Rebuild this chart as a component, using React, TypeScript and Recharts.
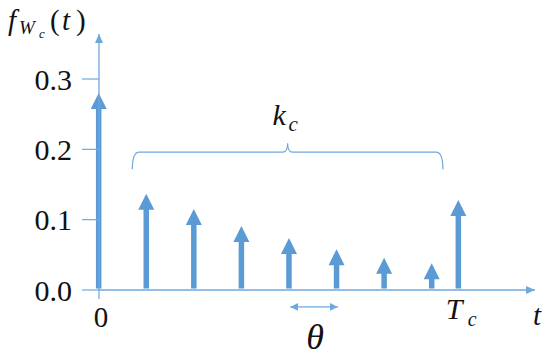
import { ComposedChart, Bar, XAxis, YAxis, ReferenceLine } from "recharts";

// ─── Data ────────────────────────────────────────────────────────────────────

const impulseTimes = [0, 1, 2, 3, 4, 5, 6, 7, 7.56];
const impulseValues = [0.28, 0.137, 0.115, 0.091, 0.074, 0.058, 0.046, 0.038, 0.128];
const yTicks = [0, 0.1, 0.2, 0.3];
const xTicks = [0, 7.56];
const xTickLabels = ["0", "T_c"];

// annotations (data coords)
const braceFrom = 0.7;
const braceTo = 7.23;
const braceLevel = 0.196;
const thetaFrom = 4.02;
const thetaTo = 5.02;
const thetaLevel = -0.024;

const X_MAX = 9.165;
const Y_MAX = 0.364;

const BLUE = "#5B9BD5";
const AXIS_BLUE = "#6FA8DC";
const SERIF = "Liberation Serif, DejaVu Serif, serif";

const data = impulseTimes.map((t, i) => ({ t, value: impulseValues[i] }));

// ─── Shapes ──────────────────────────────────────────────────────────────────

function ImpulseArrow(props: any) {
  const { x, y, width, height } = props;
  if (!height || height <= 0) return null;
  const cx = x + width / 2;
  const base = y + height - 1.5;
  const headH = 16;
  const headW = 16;
  const stem = 5.5;
  return (
    <g fill={BLUE}>
      <rect
        x={cx - stem / 2}
        y={y + headH - 1}
        width={stem}
        height={Math.max(0, base - y - headH + 1)}
      />
      <path d={`M${cx},${y} L${cx + headW / 2},${y + headH} L${cx - headW / 2},${y + headH} Z`} />
    </g>
  );
}

const txt = (size: number, italic = false) => ({
  fontFamily: SERIF,
  fontSize: size,
  fontStyle: italic ? "italic" : "normal",
  fill: "#111",
});

function Brace(props: any) {
  const { x1, x2, y1 } = props;
  const y = y1;
  const xm = (x1 + x2) / 2;
  const d = [
    `M${x1},${y + 17}`,
    `Q${x1},${y} ${x1 + 7},${y}`,
    `L${xm - 5},${y}`,
    `Q${xm},${y} ${xm},${y - 9}`,
    `Q${xm},${y} ${xm + 5},${y}`,
    `L${x2 - 7},${y}`,
    `Q${x2},${y} ${x2},${y + 17}`,
  ].join(" ");
  return (
    <g>
      <path d={d} fill="none" stroke={AXIS_BLUE} strokeWidth={1.2} />
      <text x={xm - 15} y={y - 27} style={txt(30, true)}>
        k
      </text>
      <text x={xm + 1} y={y - 21} style={txt(21, true)}>
        c
      </text>
    </g>
  );
}

function ThetaArrow(props: any) {
  const { x1, x2, y1 } = props;
  const xm = (x1 + x2) / 2;
  return (
    <g>
      <line
        x1={x1}
        y1={y1}
        x2={x2}
        y2={y1}
        stroke={AXIS_BLUE}
        strokeWidth={1.3}
        markerStart="url(#smallArrow)"
        markerEnd="url(#smallArrow)"
      />
      <text x={xm + 1} y={y1 + 42} textAnchor="middle" style={txt(36, true)}>
        θ
      </text>
    </g>
  );
}

function XTick(props: any) {
  const { x, y, payload, index } = props;
  const label = xTickLabels[index] ?? String(payload.value);
  const [main, sub] = label.split("_");
  if (!sub) {
    return (
      <g>
        <line x1={x} y1={y} x2={x} y2={y + 9} stroke={AXIS_BLUE} strokeWidth={1.2} />
        <text x={x + 2} y={y + 37} textAnchor="middle" style={txt(29)}>
          {main}
        </text>
      </g>
    );
  }
  return (
    <g>
      <text x={x - 13} y={y + 29} style={txt(30, true)}>
        {main}
      </text>
      <text x={x + 9} y={y + 36} style={txt(20, true)}>
        {sub}
      </text>
    </g>
  );
}

function TLabel(props: any) {
  const vb = props.viewBox || {};
  return (
    <text x={vb.x + vb.width + 2} y={vb.y + 35} textAnchor="middle" style={txt(29, true)}>
      t
    </text>
  );
}

function FLabel(props: any) {
  const vb = props.viewBox || {};
  const base = vb.y - 4;
  return (
    <g>
      <text x={8} y={base} style={txt(29, true)}>f</text>
      <text x={19} y={base + 4} style={txt(19, true)}>W</text>
      <text x={39} y={base + 8} style={txt(13, true)}>c</text>
      <text x={50} y={base} style={txt(29)}>(</text>
      <text x={62} y={base} style={txt(29, true)}>t</text>
      <text x={76} y={base} style={txt(29)}>)</text>
    </g>
  );
}

// ─── Chart ───────────────────────────────────────────────────────────────────

export default function App() {
  return (
    <div style={{ position: "absolute", left: 0, top: 0, width: 550, height: 358, background: "#fff" }}>
      <svg width={0} height={0} style={{ position: "absolute" }}>
        <defs>
          <marker
            id="axisArrow"
            markerUnits="userSpaceOnUse"
            markerWidth={10}
            markerHeight={8}
            refX={9}
            refY={4}
            orient="auto-start-reverse"
          >
            <path d="M0,0 L9,4 L0,8 Z" fill={AXIS_BLUE} />
          </marker>
          <marker
            id="smallArrow"
            markerUnits="userSpaceOnUse"
            markerWidth={9}
            markerHeight={8}
            refX={8}
            refY={4}
            orient="auto-start-reverse"
          >
            <path d="M0,0 L8,4 L0,8 Z" fill={AXIS_BLUE} />
          </marker>
        </defs>
      </svg>
      <ComposedChart
        width={550}
        height={358}
        data={data}
        margin={{ top: 34, right: 15, bottom: 0, left: 0 }}
      >
        <XAxis
          type="number"
          dataKey="t"
          domain={[0, X_MAX]}
          ticks={xTicks}
          height={68}
          tickSize={0}
          tickMargin={0}
          tickLine={false}
          tick={<XTick />}
          axisLine={{ stroke: AXIS_BLUE, strokeWidth: 1.3, markerEnd: "url(#axisArrow)" }}
          label={{ content: (p: any) => <TLabel {...p} /> }}
        />
        <YAxis
          type="number"
          domain={[0, Y_MAX]}
          ticks={yTicks}
          width={99}
          tickSize={17}
          tickMargin={10}
          tickFormatter={(v: number) => v.toFixed(1)}
          tick={{ fill: "#111", fontSize: 30, style: { fontFamily: SERIF } }}
          tickLine={{ stroke: AXIS_BLUE, strokeWidth: 1.2 }}
          axisLine={{ stroke: AXIS_BLUE, strokeWidth: 1.3, markerStart: "url(#axisArrow)" }}
          label={{ content: (p: any) => <FLabel {...p} /> }}
        />
        <Bar dataKey="value" barSize={16} shape={<ImpulseArrow />} isAnimationActive={false} />
        <ReferenceLine
          segment={[
            { x: braceFrom, y: braceLevel },
            { x: braceTo, y: braceLevel },
          ]}
          ifOverflow="visible"
          shape={<Brace />}
        />
        <ReferenceLine
          segment={[
            { x: thetaFrom, y: thetaLevel },
            { x: thetaTo, y: thetaLevel },
          ]}
          ifOverflow="visible"
          shape={<ThetaArrow />}
        />
      </ComposedChart>
    </div>
  );
}
